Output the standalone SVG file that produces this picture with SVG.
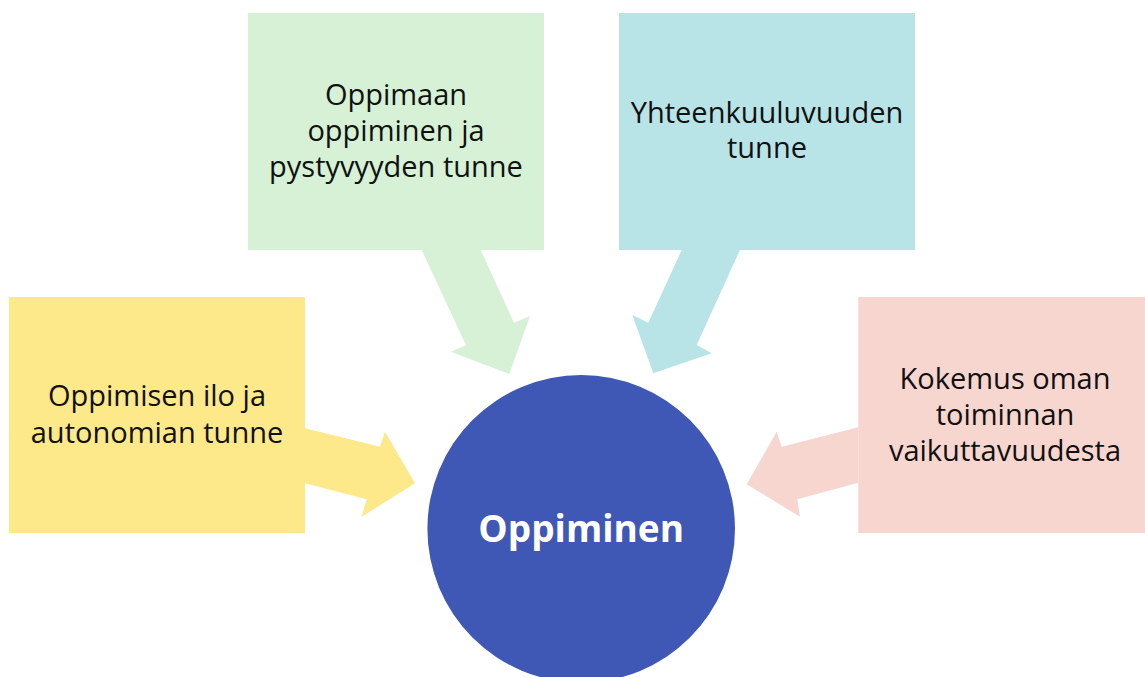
<svg xmlns="http://www.w3.org/2000/svg" width="1145" height="677" viewBox="0 0 1145 677">
<style>
.lbl{font-family:"Open Sans","Noto Sans",sans-serif;font-size:29px;fill:#111;text-anchor:middle}
.ctr{font-family:"Open Sans","Noto Sans",sans-serif;font-size:37px;font-weight:bold;fill:#fff;text-anchor:middle}
.g{fill:#D6F1D5}.c{fill:#B9E4E7}.y{fill:#FDE88A}.p{fill:#F7D6D0}
</style>
<rect width="1145" height="677" fill="#fff"/>
<g id="connectors">
<polygon class="g" points="421.7,250 480.7,250 514,322.7 530,316 509.3,374 450.7,351.7 466,345.3"/>
<polygon class="c" points="740,250 681.7,250 648.3,322.7 632.3,315 653.3,373.3 711.7,353.3 696.7,345"/>
<polygon class="y" points="305,428.3 380,446.7 385,431.7 415,483.3 361.7,516.7 366.7,499.3 305,483.3"/>
<polygon class="p" points="858.3,427.3 781.7,446.7 776.7,431.7 746.7,484.3 800,516.7 797.3,499.3 858.3,482.7"/>
</g>
<g id="node-green">
<rect class="g" x="248" y="13" width="296" height="237"/>
<text class="lbl" x="396" y="105">Oppimaan</text>
<text class="lbl" x="396" y="141">oppiminen ja</text>
<text class="lbl" x="396" y="177">pystyvyyden tunne</text>
</g>
<g id="node-cyan">
<rect class="c" x="619" y="13" width="296" height="237"/>
<text class="lbl" x="767" y="123">Yhteenkuuluvuuden</text>
<text class="lbl" x="767" y="158">tunne</text>
</g>
<g id="node-yellow">
<rect class="y" x="9" y="297" width="296" height="236"/>
<text class="lbl" x="157" y="406">Oppimisen ilo ja</text>
<text class="lbl" x="157" y="443">autonomian tunne</text>
</g>
<g id="node-pink">
<rect class="p" x="858.3" y="297" width="296" height="236"/>
<text class="lbl" x="1005" y="389">Kokemus oman</text>
<text class="lbl" x="1005" y="425">toiminnan</text>
<text class="lbl" x="1005" y="461">vaikuttavuudesta</text>
</g>
<g id="node-center">
<circle cx="581.2" cy="528.8" r="153.8" fill="#3F57B5"/>
<text class="ctr" x="581.2" y="542">Oppiminen</text>
</g>
</svg>
